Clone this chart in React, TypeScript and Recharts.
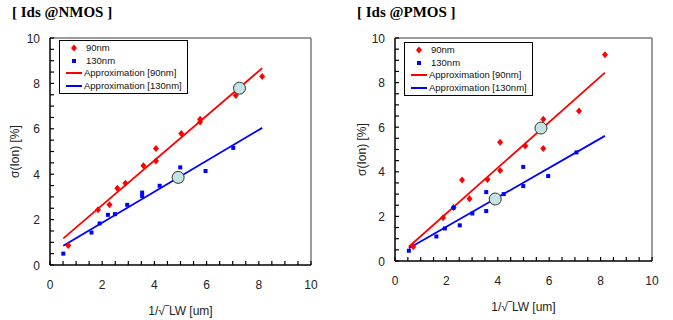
import React from "react";
import {
  ScatterChart,
  Scatter,
  XAxis,
  YAxis,
  Label,
  ReferenceLine,
} from "recharts";

// NMOS: 90nm / 130nm measured points
const nmos90 = [
  { x: 0.7, y: 0.86 }, { x: 1.84, y: 2.43 }, { x: 2.28, y: 2.65 }, { x: 2.58, y: 3.38 },
  { x: 2.89, y: 3.6 }, { x: 3.58, y: 4.37 }, { x: 4.06, y: 5.13 }, { x: 4.06, y: 4.58 },
  { x: 5.03, y: 5.79 }, { x: 5.75, y: 6.42 }, { x: 5.75, y: 6.3 }, { x: 7.12, y: 7.47 },
  { x: 8.13, y: 8.3 },
];
const nmos130 = [
  { x: 0.51, y: 0.5 }, { x: 1.59, y: 1.43 }, { x: 1.9, y: 1.83 }, { x: 2.22, y: 2.21 },
  { x: 2.49, y: 2.24 }, { x: 2.96, y: 2.65 }, { x: 3.53, y: 3.19 }, { x: 3.53, y: 3.04 },
  { x: 4.2, y: 3.49 }, { x: 4.99, y: 4.3 }, { x: 5.96, y: 4.14 }, { x: 7.02, y: 5.16 },
];
const nmosFit90 = [{ x: 0.51, y: 1.17 }, { x: 8.13, y: 8.67 }];
const nmosFit130 = [{ x: 0.51, y: 0.85 }, { x: 8.13, y: 6.04 }];
const nmosMarks = [{ x: 7.26, y: 7.79 }, { x: 4.91, y: 3.86 }];

// PMOS
const pmos90 = [
  { x: 0.71, y: 0.64 }, { x: 1.87, y: 1.94 }, { x: 2.28, y: 2.4 }, { x: 2.61, y: 3.63 },
  { x: 2.9, y: 2.79 }, { x: 3.6, y: 3.66 }, { x: 4.09, y: 5.33 }, { x: 4.09, y: 4.06 },
  { x: 5.07, y: 5.16 }, { x: 5.77, y: 6.36 }, { x: 5.77, y: 5.04 }, { x: 7.16, y: 6.73 },
  { x: 8.17, y: 9.25 },
];
const pmos130 = [
  { x: 0.54, y: 0.46 }, { x: 1.61, y: 1.1 }, { x: 1.94, y: 1.46 }, { x: 2.28, y: 2.39 },
  { x: 2.52, y: 1.6 }, { x: 3.01, y: 2.13 }, { x: 3.55, y: 3.09 }, { x: 3.55, y: 2.24 },
  { x: 4.23, y: 3.0 }, { x: 4.99, y: 4.22 }, { x: 4.99, y: 3.36 }, { x: 5.96, y: 3.81 },
  { x: 7.06, y: 4.87 },
];
const pmosFit90 = [{ x: 0.54, y: 0.64 }, { x: 8.17, y: 8.45 }];
const pmosFit130 = [{ x: 0.54, y: 0.57 }, { x: 8.17, y: 5.61 }];
const pmosMarks = [{ x: 5.68, y: 5.96 }, { x: 3.9, y: 2.78 }];

const tickPositions = [0, 0.5, 1, 1.5, 2, 2.5, 3, 3.5, 4, 4.5, 5, 5.5, 6, 6.5, 7, 7.5, 8, 8.5, 9, 9.5, 10];
const tickLabels = [0, 2, 4, 6, 8, 10];
const legendNames = ["90nm", "130nm", "Approximation [90nm]", "Approximation [130nm]"];

const RED = "#ff0000";
const BLUE = "#0000ff";
const FRAME = "#7a7a7a";
const FONT = "'Liberation Sans', Arial, sans-serif";

// ticks point inward, labels only on even values
const XTick = (props: any) => {
  const { x, y, payload } = props;
  const v = payload.value;
  return (
    <g>
      <path d={`M${x},${y}V${y - 4}`} stroke="#000" strokeWidth={1.2} fill="none" />
      {tickLabels.includes(v) && (
        <text x={x} y={y + 24} textAnchor="middle" fontSize={12} fill="#222" fontFamily={FONT}>
          {v}
        </text>
      )}
    </g>
  );
};

const YTick = (props: any) => {
  const { x, y, payload } = props;
  const v = payload.value;
  return (
    <g>
      <path d={`M${x},${y}H${x + 4}`} stroke="#000" strokeWidth={1.2} fill="none" />
      {tickLabels.includes(v) && (
        <text x={x - 10} y={y + 4.5} textAnchor="end" fontSize={12} fill="#222" fontFamily={FONT}>
          {v}
        </text>
      )}
    </g>
  );
};

const Diamond = (p: any) => (
  <polygon
    points={`${p.cx},${p.cy - 3.5} ${p.cx + 3},${p.cy} ${p.cx},${p.cy + 3.5} ${p.cx - 3},${p.cy}`}
    fill={RED}
  />
);
const Square = (p: any) => <rect x={p.cx - 2} y={p.cy - 2} width={4} height={4} fill={BLUE} />;
const Ring = (p: any) => <circle cx={p.cx} cy={p.cy} r={6} fill="#c4e3e3" stroke="#333" strokeWidth={1} />;
const NoShape = () => null;

const LegendBox = ({ left, top }: { left: number; top: number }) => (
  <div
    style={{
      position: "absolute",
      left,
      top,
      border: "1px solid #000",
      background: "#fff",
      padding: "1px 5px 1px 6px",
      fontFamily: FONT,
      fontSize: 9.5,
      color: "#111",
      lineHeight: "12.5px",
      zIndex: 2,
    }}
  >
    {legendNames.map((name, i) => (
      <div key={name} style={{ display: "flex", alignItems: "center", whiteSpace: "nowrap" }}>
        <svg width={17} height={12} style={{ marginRight: 1 }}>
          {i === 0 && <polygon points="8,2.5 11,6 8,9.5 5,6" fill={RED} />}
          {i === 1 && <rect x={6} y={4} width={4} height={4} fill={BLUE} />}
          {i === 2 && <line x1={0} x2={16} y1={6} y2={6} stroke={RED} strokeWidth={2} />}
          {i === 3 && <line x1={0} x2={16} y1={6} y2={6} stroke={BLUE} strokeWidth={2} />}
        </svg>
        <span style={{ marginLeft: i < 2 ? 2 : 0 }}>{name}</span>
      </div>
    ))}
  </div>
);

type Pt = { x: number; y: number };
type PanelProps = {
  left: number;
  width: number;
  rightMargin: number;
  xAxisHeight: number;
  xLabelOffset: number;
  yLabelOffset: number;
  legendTop: number;
  title: string;
  p90: Pt[];
  p130: Pt[];
  fit90: Pt[];
  fit130: Pt[];
  marks: Pt[];
};

const Panel = (p: PanelProps) => (
  <div style={{ position: "absolute", left: p.left, top: 0, width: p.width, height: 320 }}>
    <div
      style={{
        position: "absolute",
        left: 12,
        top: 4,
        fontFamily: "'Liberation Serif', 'Times New Roman', serif",
        fontWeight: "bold",
        fontSize: 15,
        whiteSpace: "pre",
      }}
    >
      {p.title}
    </div>
    <ScatterChart width={p.width} height={320} margin={{ top: 38, right: p.rightMargin, left: 0, bottom: 0 }}>
      <XAxis
        type="number"
        dataKey="x"
        domain={[0, 10]}
        ticks={tickPositions}
        interval={0}
        tickSize={0}
        tickMargin={0}
        tickLine={false}
        tick={<XTick />}
        height={p.xAxisHeight}
        axisLine={{ stroke: "#000", strokeWidth: 1.5 }}
      >
        <Label
          value="1/√‾LW [um]"
          position="insideBottom"
          offset={p.xLabelOffset}
          style={{ fontFamily: FONT, fontSize: 12, fill: "#222" }}
        />
      </XAxis>
      <YAxis
        type="number"
        dataKey="y"
        domain={[0, 10]}
        ticks={tickPositions}
        interval={0}
        tickSize={0}
        tickMargin={0}
        tickLine={false}
        tick={<YTick />}
        width={50}
        axisLine={{ stroke: "#000", strokeWidth: 1.5 }}
      >
        <Label
          value="σ(Ion) [%]"
          angle={-90}
          position="insideLeft"
          offset={p.yLabelOffset}
          style={{ fontFamily: FONT, fontSize: 12, fill: "#222", textAnchor: "middle" }}
        />
      </YAxis>
      <ReferenceLine y={10} stroke={FRAME} strokeWidth={1.5} />
      <ReferenceLine x={10} stroke={FRAME} strokeWidth={1.5} />
      <Scatter data={p.fit90} line={{ stroke: RED, strokeWidth: 1.8 }} lineType="joint" shape={NoShape} isAnimationActive={false} />
      <Scatter data={p.fit130} line={{ stroke: BLUE, strokeWidth: 1.8 }} lineType="joint" shape={NoShape} isAnimationActive={false} />
      <Scatter data={p.p90} shape={Diamond} isAnimationActive={false} />
      <Scatter data={p.p130} shape={Square} isAnimationActive={false} />
      <Scatter data={p.marks} shape={Ring} isAnimationActive={false} />
    </ScatterChart>
    <LegendBox left={59} top={p.legendTop} />
  </div>
);

export default function App() {
  return (
    <div style={{ position: "absolute", left: 0, top: 0, width: 673, height: 320, background: "#fff" }}>
      <Panel
        left={0}
        width={330}
        rightMargin={19}
        xAxisHeight={55}
        xLabelOffset={5}
        yLabelOffset={15}
        legendTop={40}
        title="[ Ids @NMOS ]"
        p90={nmos90}
        p130={nmos130}
        fit90={nmosFit90}
        fit130={nmosFit130}
        marks={nmosMarks}
      />
      <Panel
        left={345}
        width={320}
        rightMargin={13}
        xAxisHeight={59}
        xLabelOffset={9}
        yLabelOffset={17}
        legendTop={42}
        title="[ Ids @PMOS ]"
        p90={pmos90}
        p130={pmos130}
        fit90={pmosFit90}
        fit130={pmosFit130}
        marks={pmosMarks}
      />
    </div>
  );
}
